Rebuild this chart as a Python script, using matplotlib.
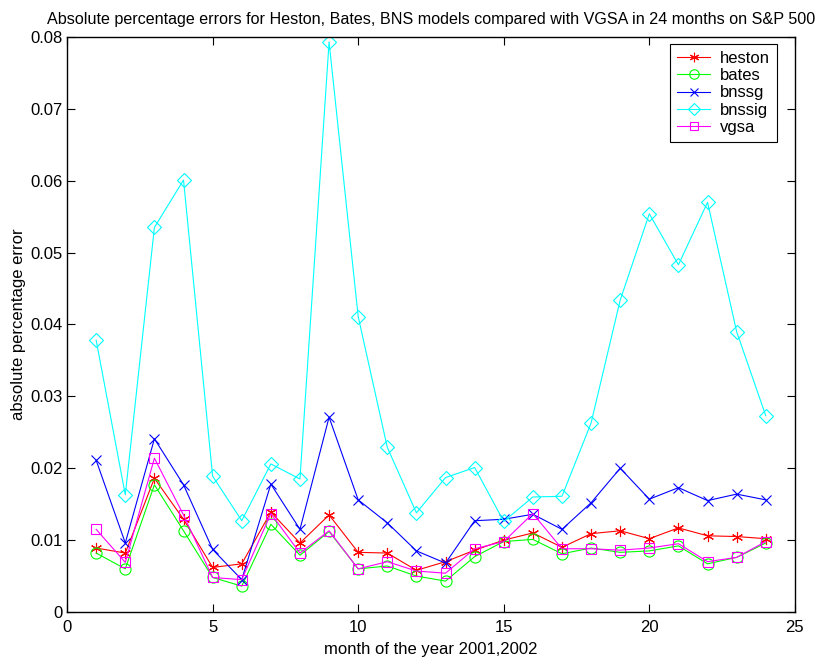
import numpy as np
import matplotlib
matplotlib.use('Agg')
import matplotlib.pyplot as plt
from matplotlib.ticker import FixedLocator, FuncFormatter

plt.rcParams['font.family'] = ['Liberation Sans', 'DejaVu Sans']

months = list(range(1, 25))

heston = [0.0089, 0.0082, 0.0186, 0.0129, 0.0062, 0.0067, 0.0139, 0.0096, 0.0135, 0.0083,
          0.0082, 0.0058, 0.0070, 0.0086, 0.0100, 0.0110, 0.0090, 0.0109, 0.0113, 0.0102,
          0.0117, 0.0106, 0.0105, 0.0102]
bates = [0.0082, 0.0060, 0.0177, 0.0113, 0.0048, 0.0036, 0.0122, 0.0079, 0.0112, 0.0060,
         0.0064, 0.0050, 0.0043, 0.0077, 0.0098, 0.0101, 0.0081, 0.0089, 0.0083, 0.0085,
         0.0092, 0.0067, 0.0076, 0.0096]
bnssg = [0.0211, 0.0096, 0.0241, 0.0177, 0.0087, 0.0045, 0.0178, 0.0115, 0.0271, 0.0156,
         0.0124, 0.0085, 0.0068, 0.0127, 0.0129, 0.0136, 0.0115, 0.0152, 0.0200, 0.0157,
         0.0173, 0.0155, 0.0164, 0.0156]
bnssig = [0.0378, 0.0163, 0.0535, 0.0601, 0.0189, 0.0127, 0.0206, 0.0185, 0.0793, 0.0411,
          0.0229, 0.0138, 0.0187, 0.0201, 0.0126, 0.0160, 0.0161, 0.0263, 0.0434, 0.0554,
          0.0483, 0.0570, 0.0390, 0.0273]
vgsa = [0.0115, 0.0069, 0.0214, 0.0135, 0.0048, 0.0045, 0.0137, 0.0082, 0.0113, 0.0060,
        0.0070, 0.0057, 0.0054, 0.0088, 0.0098, 0.0137, 0.0088, 0.0088, 0.0086, 0.0089,
        0.0095, 0.0070, 0.0076, 0.0098]

asterisk = (6, 2, 0)
series = [
    ('heston', heston, '#ff0000', asterisk, 8),
    ('bates', bates, '#00ff00', 'o', 8),
    ('bnssg', bnssg, '#0000ff', 'x', 7),
    ('bnssig', bnssig, '#00ffff', 'D', 7.5),
    ('vgsa', vgsa, '#ff00ff', 's', 7),
]

fig = plt.figure(figsize=(8.28, 6.57), dpi=100)
ax = fig.add_axes([0.081, 0.0685, 0.879, 0.8752])

for name, vals, col, mk, ms in series:
    ax.plot(months, vals, color=col, marker=mk, markersize=ms, linewidth=0.8,
            markerfacecolor='none', markeredgecolor=col, markeredgewidth=0.8, label=name)

ax.set_xlim(0, 25)
ax.set_ylim(0, 0.08)
ax.xaxis.set_major_locator(FixedLocator([0, 5, 10, 15, 20, 25]))
ax.yaxis.set_major_locator(FixedLocator(np.arange(0, 0.081, 0.01)))
ax.yaxis.set_major_formatter(FuncFormatter(lambda v, p: '0' if abs(v) < 1e-9 else f'{v:.2f}'))
ax.tick_params(direction='in', top=True, right=True, length=6, width=0.8, labelsize=12, pad=3)
ax.tick_params(axis='x', pad=6)
for sp in ax.spines.values():
    sp.set_linewidth(1.0)

ax.set_xlabel('month of the year 2001,2002', fontsize=12, labelpad=5)
ax.set_ylabel('absolute percentage error', fontsize=12, labelpad=3)
ax.set_title('Absolute percentage errors for Heston, Bates, BNS models compared with VGSA in 24 months on S&P 500',
             fontsize=11.6, pad=9)

leg = ax.legend(loc='upper right', bbox_to_anchor=(0.9753, 0.9878), borderaxespad=0,
                fontsize=12, fancybox=False, edgecolor='black', framealpha=1,
                handlelength=2.0, borderpad=0.4, labelspacing=0.14, handletextpad=0.6,
                markerscale=0.85)
leg.get_frame().set_linewidth(0.8)

fig.savefig('out.png', dpi=100)
